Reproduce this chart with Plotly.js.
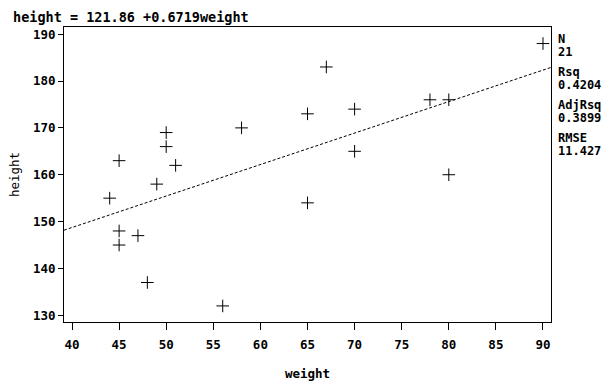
<!DOCTYPE html>
<html><head><meta charset="utf-8">
<script src="https://cdn.plot.ly/plotly-3.0.1.min.js"></script>
<style>html,body{margin:0;padding:0;background:#fff}#c{width:616px;height:390px}</style>
</head><body><div id="c"></div>
<script>
const weight = [44,45,45,45,47,48,49,50,50,51,56,58,65,65,67,70,70,78,80,80,90];
const height = [155,163,148,145,147,137,158,169,166,162,132,170,173,154,183,174,165,176,176,160,188];
const intercept = 121.86, slope = 0.6719;
const statLabels = ["N","21","Rsq","0.4204","AdjRsq","0.3899","RMSE","11.427"];
const xTicks = [40,45,50,55,60,65,70,75,80,85,90];
const yTicks = [130,140,150,160,170,180,190];
const xRange = [39.15, 90.85], yRange = [128.57, 191.53];

const fitX = xRange.slice();
const fitY = fitX.map(x => intercept + slope * x);
const mono = "DejaVu Sans Mono";

const traces = [
  {x: fitX, y: fitY, mode: 'lines', line: {color: '#000', width: 1, dash: '3px,2px'}, hoverinfo: 'skip'},
  {x: weight, y: height, mode: 'markers', marker: {symbol: 'cross-thin', size: 9, line: {color: '#000', width: 1}, color: '#000'}}
];

const ann = [{
  text: 'height = ' + intercept.toFixed(2) + ' +' + slope + 'weight', xref: 'paper', yref: 'paper',
  x: -53/487, y: 1 + 10/295.5, xanchor: 'left', yanchor: 'middle', showarrow: false,
  font: {family: mono, size: 13.5, color: '#000', weight: 'bold'}
}];
const statY = [39, 52, 72, 85, 105, 118, 138, 151];
statLabels.forEach((s, i) => ann.push({
  text: s, xref: 'paper', yref: 'paper', x: 1 + 5/487, y: 1 - (statY[i] - 26.5)/295.5,
  xanchor: 'left', yanchor: 'middle', showarrow: false,
  font: {family: mono, size: 12, color: '#000', weight: 'bold'}
}));

const layout = {
  width: 616, height: 390, showlegend: false,
  paper_bgcolor: '#fff', plot_bgcolor: '#fff',
  margin: {l: 64, r: 65, t: 26.5, b: 68},
  xaxis: {range: xRange, tickvals: xTicks, ticktext: xTicks.map(String), showgrid: false, zeroline: false,
    showline: true, mirror: true, linecolor: '#000', linewidth: 1, ticks: 'outside', ticklen: 7, tickcolor: '#000',
    ticklabelstandoff: 4,
    tickfont: {family: mono, size: 12.5, color: '#000', weight: 'bold'},
    title: {text: 'weight', font: {family: mono, size: 12.5, color: '#000', weight: 'bold'}, standoff: 18}},
  yaxis: {range: yRange, tickvals: yTicks, ticktext: yTicks.map(String), showgrid: false, zeroline: false,
    showline: true, mirror: true, linecolor: '#000', linewidth: 1, ticks: 'outside', ticklen: 5, tickcolor: '#000',
    tickfont: {family: mono, size: 12.5, color: '#000', weight: 'bold'},
    title: {text: 'height', font: {family: mono, size: 12.5, color: '#000'}, standoff: 10}},
  annotations: ann
};
Plotly.newPlot('c', traces, layout, {staticPlot: true});
</script></body></html>
